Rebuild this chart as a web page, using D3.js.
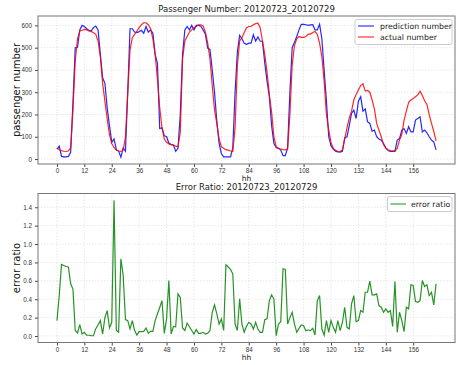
<!doctype html>
<html>
<head>
  <meta charset="utf-8">
  <script src="https://cdnjs.cloudflare.com/ajax/libs/d3/7.8.5/d3.min.js"></script>
  <style>
    body { margin: 0; background: #fff; }
    svg { display: block; font-family: "DejaVu Sans", sans-serif; }
    .tick text { fill: #333; font-size: 6.3px; }
    .tick line { stroke: #444; }
    .domain { display: none; }
  </style>
</head>
<body>
<svg width="457" height="365"></svg>
<script>
// hours 0..166
var actual = [50,42,38,35,34,36,50,220,440,540,575,578,582,580,575,572,568,560,530,460,
  340,260,180,110,70,52,40,36,34,40,100,300,490,545,560,575,590,603,612,612,
  603,585,540,468,360,230,140,90,75,68,65,63,58,55,120,450,530,550,570,580,
  590,595,603,603,598,570,520,450,330,220,160,90,55,48,42,40,36,34,140,420,
  530,545,568,590,595,595,603,608,610,590,530,470,390,290,210,100,55,48,45,42,
  41,45,200,420,510,540,550,546,546,550,561,561,568,573,560,520,460,350,200,130,
  75,48,40,34,35,40,90,140,185,215,265,290,310,330,338,305,308,300,265,225,
  160,130,100,65,48,42,38,37,37,48,85,110,175,215,255,265,272,280,288,305,
  285,262,245,200,160,125,82];
var prediction = [45,58,12,10,10,12,30,250,500,502,580,600,595,585,578,576,590,597,580,470,
  365,340,230,150,75,90,42,36,8,50,35,300,585,585,570,568,572,578,565,595,
  570,580,565,470,430,137,140,105,100,72,65,63,35,48,200,470,580,595,580,600,
  580,600,600,596,580,560,498,492,400,300,170,70,25,10,10,10,10,50,300,480,
  555,540,520,515,520,520,558,530,548,530,528,430,350,280,150,70,52,48,40,15,
  15,50,300,500,525,550,580,605,605,603,600,602,603,580,580,605,540,400,260,100,
  60,45,35,32,31,35,95,100,150,205,220,182,260,280,215,225,168,160,125,130,
  100,90,85,70,50,38,34,34,34,85,92,130,137,115,145,122,122,175,182,190,
  122,130,118,100,85,77,41];
var errorRatio = [0.167,0.44,0.778,0.767,0.756,0.75,0.567,0.51,0.06,0.033,
  0.124,0.022,0.04,0.01,0.008,0.005,0.003,0.08,0.12,0.167,
  0.022,0.2,0.276,0.087,0.149,1.476,0.06,0.04,0.84,0.658,
  0.178,0.167,0.076,0.167,0.06,0.01,0.047,0.047,0.05,0.087,
  0.029,0.05,0.05,0.167,0.24,0.31,0.385,0.029,0.186,0.604,
  0.022,0.105,0.1,0.458,0.42,0.087,0.06,0.14,0.1,0.06,
  0.022,0.07,0.029,0.029,0.04,0.022,0.029,0.06,0.258,0.338,
  0.24,0.13,0.186,0.06,0.774,0.75,0.724,0.676,0.13,0.06,
  0.404,0.13,0.04,0.105,0.149,0.131,0.076,0.149,0.076,0.04,
  0.04,0.178,0.186,0.385,0.447,0.404,0.004,0.131,0.156,0.731,
  0.724,0.131,0.2,0.258,0.131,0.04,0.083,0.12,0.112,0.058,
  0.065,0.058,0.083,0.01,0.385,0.44,0.076,0.01,0.167,0.04,
  0.167,0.094,0.04,0.167,0.058,0.149,0.313,0.094,0.076,0.349,
  0.44,0.156,0.167,0.276,0.258,0.476,0.476,0.596,0.447,0.447,
  0.458,0.331,0.313,0.258,0.295,0.258,0.276,0.105,0.593,0.04,
  0.258,0.167,0.047,0.313,0.295,0.557,0.549,0.375,0.367,0.385,
  0.604,0.539,0.557,0.44,0.476,0.338,0.567];
var xTicks = [0,12,24,36,48,60,72,84,96,108,120,132,144,156];
var passTicks = [0,100,200,300,400,500,600];
var errTicks = [0,0.2,0.4,0.6,0.8,1.0,1.2,1.4];
var dateRange = "20120723_20120729";

var svg = d3.select("svg");
var left = 38, right = 455;

// matplotlib style 5% margins
function padded(ext) {
  var d = (ext[1] - ext[0]) * 0.05;
  return [ext[0] - d, ext[1] + d];
}
var hours = d3.range(actual.length);
var x = d3.scaleLinear().domain(padded([0, hours.length - 1])).range([left, right]);

function panel(top, bottom, yDomain, yTicks, yFmt, title, ylabel) {
  var y = d3.scaleLinear().domain(yDomain).range([bottom, top]);
  var g = svg.append("g");

  // grid
  g.selectAll(".gx").data(xTicks).enter().append("line")
    .attr("x1", d => x(d)).attr("x2", d => x(d))
    .attr("y1", top).attr("y2", bottom)
    .attr("stroke", "#d8d8d8").attr("stroke-width", 0.6).attr("stroke-dasharray", "1.5,1.5");
  g.selectAll(".gy").data(yTicks).enter().append("line")
    .attr("x1", left).attr("x2", right)
    .attr("y1", d => y(d)).attr("y2", d => y(d))
    .attr("stroke", "#d8d8d8").attr("stroke-width", 0.6).attr("stroke-dasharray", "1.5,1.5");

  g.append("g").attr("transform", "translate(0," + bottom + ")")
    .call(d3.axisBottom(x).tickValues(xTicks).tickSize(3).tickPadding(2));
  g.append("g").attr("transform", "translate(" + left + ",0)")
    .call(d3.axisLeft(y).tickValues(yTicks).tickFormat(yFmt).tickSize(3).tickPadding(3));

  g.append("text").attr("x", (left + right) / 2).attr("y", top - 4)
    .attr("text-anchor", "middle").attr("font-size", 8.5).attr("fill", "#222").text(title);
  g.append("text").attr("x", (left + right) / 2).attr("y", bottom + 17)
    .attr("text-anchor", "middle").attr("font-size", 7.5).attr("fill", "#222").text("hh");
  g.append("text").attr("transform", "translate(20," + (top + bottom) / 2 + ") rotate(-90)")
    .attr("text-anchor", "middle").attr("font-size", 10).attr("fill", "#111").text(ylabel);
  return {g: g, y: y};
}

function frame(g, top, bottom) {
  g.append("rect").attr("x", left).attr("y", top)
    .attr("width", right - left).attr("height", bottom - top)
    .attr("fill", "none").attr("stroke", "#777").attr("stroke-width", 1);
}

// top panel
var topT = 16, topB = 164;
var allPass = actual.concat(prediction);
var p1 = panel(topT, topB, padded(d3.extent(allPass)), passTicks, d3.format("d"),
  "Passenger Number: " + dateRange, "passenger number");
var line1 = d3.line().x((d, i) => x(i)).y(d => p1.y(d));
p1.g.append("path").datum(prediction).attr("d", line1)
  .attr("fill", "none").attr("stroke", "#0000ff").attr("stroke-opacity", 0.85).attr("stroke-width", 1.2);
p1.g.append("path").datum(actual).attr("d", line1)
  .attr("fill", "none").attr("stroke", "#ff0000").attr("stroke-opacity", 0.85).attr("stroke-width", 1.2);
frame(p1.g, topT, topB);

var leg1 = p1.g.append("g");
leg1.append("rect").attr("x", 355).attr("y", 19.5).attr("width", 97).attr("height", 25)
  .attr("fill", "#fff").attr("fill-opacity", 0.85).attr("stroke", "#ccc").attr("rx", 2);
[["prediction number", "#0000ff", 26], ["actual number", "#ff0000", 37]].forEach(function (e) {
  leg1.append("line").attr("x1", 358).attr("x2", 374).attr("y1", e[2]).attr("y2", e[2])
    .attr("stroke", e[1]).attr("stroke-opacity", 0.6).attr("stroke-width", 1.6);
  leg1.append("text").attr("x", 380).attr("y", e[2] + 3).attr("font-size", 7.8)
    .attr("fill", "#222").text(e[0]);
});

// bottom panel
var botT = 193.5, botB = 342.5;
var p2 = panel(botT, botB, padded(d3.extent(errorRatio)), errTicks, d3.format(".1f"),
  "Error Ratio: " + dateRange, "error ratio");
var line2 = d3.line().x((d, i) => x(i)).y(d => p2.y(d));
p2.g.append("path").datum(errorRatio).attr("d", line2)
  .attr("fill", "none").attr("stroke", "#008000").attr("stroke-opacity", 0.85).attr("stroke-width", 1.2);
frame(p2.g, botT, botB);

var leg2 = p2.g.append("g");
leg2.append("rect").attr("x", 387.5).attr("y", 196.5).attr("width", 64.5).attr("height", 15)
  .attr("fill", "#fff").attr("fill-opacity", 0.85).attr("stroke", "#ccc").attr("rx", 2);
leg2.append("line").attr("x1", 390.5).attr("x2", 406).attr("y1", 204).attr("y2", 204)
  .attr("stroke", "#008000").attr("stroke-opacity", 0.55).attr("stroke-width", 1.6);
leg2.append("text").attr("x", 411).attr("y", 207).attr("font-size", 7.8)
  .attr("fill", "#222").text("error ratio");
</script>
</body>
</html>
